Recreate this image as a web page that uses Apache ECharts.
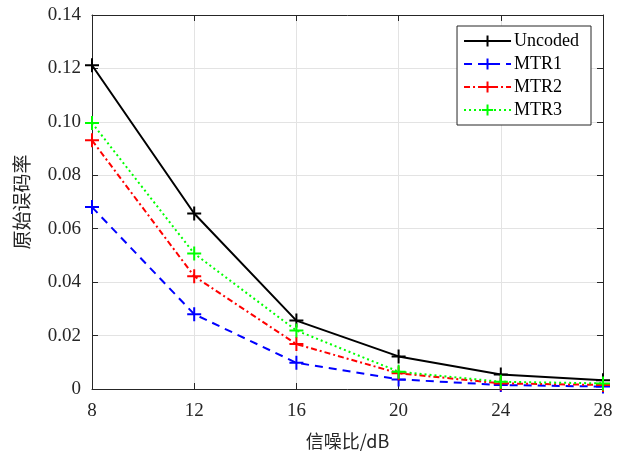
<!DOCTYPE html>
<html>
<head>
<meta charset="utf-8">
<script src="https://cdn.jsdelivr.net/npm/echarts@6/dist/echarts.min.js"></script>
<style>
  html, body { margin: 0; padding: 0; background: #fff; }
  #chart { width: 624px; height: 456px; }
</style>
</head>
<body>
<div id="chart"></div>
<script>
// SNR points (dB)
const snr = [8, 12, 16, 20, 24, 28];
// Raw bit error rates per scheme
const uncoded = [0.1212, 0.0657, 0.0256, 0.0122, 0.0054, 0.0033];
const mtr1 = [0.0681, 0.0280, 0.0098, 0.0036, 0.0015, 0.0009];
const mtr2 = [0.0931, 0.0422, 0.0168, 0.0059, 0.0021, 0.0015];
const mtr3 = [0.0996, 0.0507, 0.0219, 0.0065, 0.0027, 0.0021];
const seriesNames = ['Uncoded', 'MTR1', 'MTR2', 'MTR3'];
const yTicks = ['0', '0.02', '0.04', '0.06', '0.08', '0.10', '0.12', '0.14'];

const axisColor = '#262626';
const serif = '"Liberation Serif", "Times New Roman", serif';
const cjk = '"Noto Sans CJK SC", sans-serif';
const plus = 'path://M0,-10L0,10M-10,0L10,0';

function pairs(ys) { return ys.map((y, i) => [snr[i], y]); }

function lineSeries(name, ys, color, type) {
  return {
    name: name,
    type: 'line',
    data: pairs(ys),
    symbol: plus,
    symbolSize: 14,
    showSymbol: true,
    itemStyle: { color: color, borderColor: color, borderWidth: 2 },
    lineStyle: { color: color, width: 2, type: type },
    emphasis: { disabled: true },
    animation: false
  };
}

const chart = echarts.init(document.getElementById('chart'), null, { renderer: 'canvas' });

const baseAxis = {
  axisLine: { show: true, onZero: false, lineStyle: { color: axisColor, width: 1 } },
  axisTick: { show: true, inside: true, length: 6, lineStyle: { color: axisColor } },
  splitLine: { show: false }
};

chart.setOption({
  backgroundColor: '#fff',
  animation: false,
  grid: { left: 92, right: 21, top: 15, bottom: 67, containLabel: false },
  legend: {
    data: seriesNames,
    orient: 'vertical',
    right: 33,
    top: 26,
    itemWidth: 47,
    itemHeight: 14,
    itemGap: 5,
    padding: [6, 12, 6, 6],
    borderColor: axisColor,
    borderWidth: 1,
    backgroundColor: '#fff',
    textStyle: { fontFamily: serif, fontSize: 18, color: '#000', padding: [0, 0, 0, -2] }
  },
  xAxis: [
    Object.assign({}, baseAxis, {
      type: 'value', min: 8, max: 28, interval: 4,
      name: '信噪比/dB', nameLocation: 'middle', nameGap: 43,
      nameTextStyle: { fontFamily: cjk, fontSize: 18, color: axisColor },
      axisLabel: { fontFamily: serif, fontSize: 19, color: axisColor, margin: 13 },
      splitLine: { show: true, lineStyle: { color: '#e3e3e3', width: 1 } }
    }),
    Object.assign({}, baseAxis, {
      type: 'value', min: 8, max: 28, interval: 4, position: 'top',
      axisLabel: { show: false }
    })
  ],
  yAxis: [
    Object.assign({}, baseAxis, {
      type: 'value', min: 0, max: 0.14, interval: 0.02,
      name: '原始误码率', nameLocation: 'middle', nameGap: 61, nameRotate: 90,
      nameTextStyle: { fontFamily: cjk, fontSize: 19, color: axisColor },
      axisLabel: {
        fontFamily: serif, fontSize: 19, color: axisColor, margin: 11,
        formatter: (v) => yTicks[Math.round(v / 0.02)]
      },
      splitLine: { show: true, lineStyle: { color: '#e3e3e3', width: 1 } }
    }),
    Object.assign({}, baseAxis, {
      type: 'value', min: 0, max: 0.14, interval: 0.02, position: 'right',
      axisLabel: { show: false }
    })
  ],
  series: [
    lineSeries('Uncoded', uncoded, '#000000', 'solid'),
    lineSeries('MTR1', mtr1, '#0000ff', [8, 6]),
    lineSeries('MTR2', mtr2, '#ff0000', [6, 3, 2, 3]),
    lineSeries('MTR3', mtr3, '#00ff00', [2, 3])
  ]
});
</script>
</body>
</html>
